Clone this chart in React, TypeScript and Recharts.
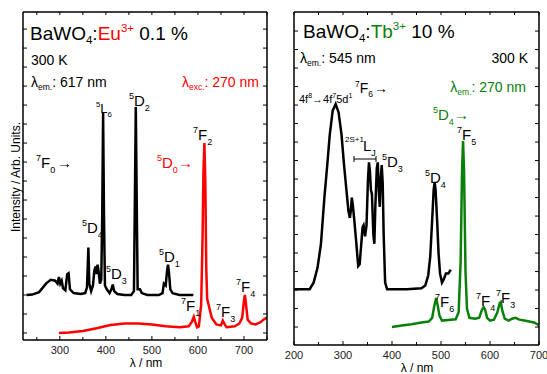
import React from 'react';
import { LineChart, Line, XAxis, YAxis } from 'recharts';

// Eu3+ panel: excitation (λem 617 nm) and emission (λexc 270 nm)
const euExcNm = [228, 240, 255, 270, 280, 290, 295, 298, 301, 304, 307, 312, 316, 319, 322, 330, 345, 355, 359, 362, 364, 368, 372, 375, 378, 380, 382, 384, 387, 390, 392, 394, 396, 398, 402, 408, 412, 415, 418, 425, 440, 455, 461, 463, 465, 467, 469, 474, 478, 490, 515, 523, 526, 530, 533, 535, 537, 540, 545, 560, 590];
const euExcVal = [2.0, 2.02, 2.15, 2.6, 2.8, 2.75, 2.6, 2.95, 2.6, 2.75, 2.35, 2.25, 3.1, 3.15, 2.3, 2.1, 2.05, 2.1, 2.4, 4.5, 2.6, 2.2, 2.5, 3.3, 3.5, 3.1, 3.6, 3.3, 2.6, 2.8, 6.0, 11.6, 6.0, 2.5, 2.3, 2.1, 2.3, 2.55, 2.2, 2.05, 2.0, 2.0, 2.2, 7.0, 11.9, 7.0, 2.3, 2.3, 2.1, 2.0, 2.0, 2.1, 2.6, 2.5, 3.3, 3.6, 3.2, 2.3, 2.1, 2.0, 2.0];
const euEmNm = [298, 320, 350, 380, 410, 440, 470, 500, 530, 560, 580, 587, 591, 594, 598, 602, 607, 610, 612, 614, 616, 618, 620, 623, 626, 630, 640, 650, 654, 657, 662, 680, 690, 696, 700, 702, 704, 708, 715, 725, 735, 745, 750];
const euEmVal = [0.0, 0.02, 0.1, 0.25, 0.42, 0.5, 0.5, 0.45, 0.35, 0.3, 0.35, 0.6, 0.85, 0.6, 0.3, 0.35, 1.5, 5.0, 8.5, 10.0, 8.0, 3.5, 1.8, 1.5, 1.2, 0.8, 0.45, 0.4, 0.65, 0.5, 0.3, 0.35, 0.5, 0.8, 1.7, 2.0, 1.6, 0.7, 0.5, 0.45, 0.55, 0.75, 0.8];

// Tb3+ panel: excitation (λem 545 nm) and emission (270 nm)
const tbExcNm = [200, 232, 240, 248, 255, 262, 268, 273, 279, 285, 291, 297, 302, 307, 311, 314, 316, 318, 320, 323, 327, 331, 334, 337, 340, 342, 345, 348, 351, 353, 355, 357, 359, 362, 364, 366, 369, 371, 373, 375, 377, 379, 381, 383, 386, 390, 430, 460, 468, 474, 478, 482, 485, 487, 489, 492, 495, 498, 502, 506, 510, 515, 520];
const tbExcVal = [2.05, 2.05, 2.4, 3.2, 4.5, 7.0, 8.8, 10.4, 11.7, 12.05, 11.6, 10.4, 8.8, 7.4, 6.3, 5.9, 6.3, 7.0, 6.6, 5.8, 4.6, 3.3, 3.4, 4.4, 5.4, 5.5, 4.9, 5.5, 8.0, 8.9, 8.4, 7.4, 7.2, 5.0, 4.5, 6.5, 8.6, 8.9, 7.4, 6.5, 8.0, 8.75, 7.8, 5.0, 2.4, 2.05, 2.05, 2.1, 2.25, 2.8, 3.8, 5.8, 7.4, 7.85, 7.4, 5.8, 4.0, 2.9, 2.4, 2.6, 2.9, 2.9, 3.1];
const tbEmNm = [400, 420, 440, 460, 475, 482, 486, 490, 493, 497, 502, 515, 530, 536, 540, 543, 545, 547, 550, 553, 558, 570, 578, 583, 587, 590, 594, 600, 608, 615, 620, 622, 625, 630, 638, 645, 652, 660, 670, 680, 690, 700];
const tbEmVal = [0.0, 0.08, 0.15, 0.25, 0.3, 0.5, 1.1, 1.57, 1.2, 0.6, 0.35, 0.38, 0.42, 0.8, 3.5, 8.5, 10.05, 8.5, 3.0, 1.0, 0.5, 0.45, 0.5, 0.9, 1.08, 0.95, 0.5, 0.35, 0.4, 0.8, 1.3, 1.35, 0.9, 0.45, 0.35, 0.45, 0.5, 0.4, 0.35, 0.3, 0.25, 0.1];

const yTicks = [0, 1, 2, 3, 4, 5, 6, 7, 8, 9, 10, 11, 12, 13, 14, 15, 16];
const euXTicks = [250, 300, 350, 400, 450, 500, 550, 600, 650, 700, 750];
const tbXTicks = [200, 250, 300, 350, 400, 450, 500, 550, 600, 650, 700];

const toRows = (nm: number[], v: number[]) => nm.map((x, i) => ({ x, y: v[i] }));

const FONT = 'Arial, "Liberation Sans", sans-serif';
const RED = '#ff0000';
const GREEN = '#0a800a';

const BottomTick = (props: any) => {
  const { x, y, payload, labelDy } = props;
  const major = payload.value % 100 === 0;
  return (
    <g>
      <line x1={x} y1={y} x2={x} y2={y - (major ? 4 : 3)} stroke="#000" strokeWidth={1} />
      {major && (
        <text x={x} y={y + labelDy} textAnchor="middle" fontSize={11} fontFamily={FONT} fill="#222">
          {payload.value}
        </text>
      )}
    </g>
  );
};
const TopTick = ({ x, y }: any) => <line x1={x} y1={y} x2={x} y2={y + 3} stroke="#000" strokeWidth={1} />;
const LeftTick = ({ x, y }: any) => <line x1={x} y1={y} x2={x + 4} y2={y} stroke="#000" strokeWidth={1} />;
const RightTick = ({ x, y }: any) => <line x1={x} y1={y} x2={x - 4} y2={y} stroke="#000" strokeWidth={1} />;

function Term({ x, y, pre, main, sub, size = 15, fill = '#000' }: any) {
  return (
    <text x={x} y={y} fontSize={size} fill={fill} fontFamily={FONT}>
      {pre && <tspan fontSize={size * 0.6} dy={-size * 0.45}>{pre}</tspan>}
      <tspan dy={pre ? size * 0.45 : 0}>{main}</tspan>
      {sub && <tspan fontSize={size * 0.6} dy={size * 0.3}>{sub}</tspan>}
    </text>
  );
}

const AXIS_LINE = { stroke: '#000', strokeWidth: 1.5 };

function Panel({ width, margin, xHeight, xDomain, xTicks, yDomain, labelDy, series }: any) {
  return (
    <LineChart width={width} height={374} margin={margin}>
      <XAxis dataKey="x" type="number" domain={xDomain} ticks={xTicks} interval={0} allowDataOverflow
        height={xHeight} tickSize={0} tickMargin={0} tickLine={false}
        axisLine={AXIS_LINE} tick={<BottomTick labelDy={labelDy} />} />
      <XAxis xAxisId="top" orientation="top" dataKey="x" type="number" domain={xDomain} ticks={xTicks} interval={0}
        allowDataOverflow height={1} tickSize={0} tickMargin={0} tickLine={false}
        axisLine={AXIS_LINE} tick={<TopTick />} />
      <YAxis type="number" domain={yDomain} ticks={yTicks} interval={0} allowDataOverflow width={1}
        tickSize={0} tickMargin={0} tickLine={false} axisLine={AXIS_LINE} tick={<LeftTick />} />
      <YAxis yAxisId="r" orientation="right" type="number" domain={yDomain} ticks={yTicks} interval={0}
        allowDataOverflow width={1} tickSize={0} tickMargin={0} tickLine={false}
        axisLine={AXIS_LINE} tick={<RightTick />} />
      {series.map((s: any, i: number) => (
        <Line key={i} data={s.data} dataKey="y" type="linear" stroke={s.color} strokeWidth={2.5}
          dot={false} isAnimationActive={false} />
      ))}
    </LineChart>
  );
}

export default function App() {
  return (
    <div style={{ position: 'absolute', left: 0, top: 0, width: 547, height: 374, background: '#fff' }}>
      <div style={{ position: 'absolute', left: 0, top: 0 }}>
        <Panel width={275} margin={{ top: 11, right: 7, left: 22, bottom: 0 }} xHeight={34}
          xDomain={[220, 750]} xTicks={euXTicks} yDomain={[-0.37, 16.9]} labelDy={14}
          series={[{ data: toRows(euExcNm, euExcVal), color: '#000' }, { data: toRows(euEmNm, euEmVal), color: RED }]} />
      </div>
      <div style={{ position: 'absolute', left: 275, top: 0 }}>
        <Panel width={272} margin={{ top: 11, right: 7, left: 18, bottom: 0 }} xHeight={29}
          xDomain={[200, 700]} xTicks={tbXTicks} yDomain={[-0.97, 17.03]} labelDy={14}
          series={[{ data: toRows(tbExcNm, tbExcVal), color: '#000' }, { data: toRows(tbEmNm, tbEmVal), color: GREEN }]} />
      </div>
      <svg width={547} height={374} style={{ position: 'absolute', left: 0, top: 0, pointerEvents: 'none' }}>
        {/* left panel */}
        <text x={30} y={40} fontSize={19} fontFamily={FONT}>
          BaWO<tspan fontSize={11.5} dy={4}>4</tspan>
          <tspan dy={-4}>:</tspan>
          <tspan fill={RED}>Eu</tspan>
          <tspan fill={RED} fontSize={11.5} dy={-8}>3+</tspan>
          <tspan dy={8}> 0.1 %</tspan>
        </text>
        <text x={31} y={65} fontSize={14} fontFamily={FONT}>300 K</text>
        <text x={31} y={87} fontSize={14} fontFamily={FONT}>
          λ<tspan fontSize={8.5} dy={3}>em.</tspan><tspan dy={-3}>: 617 nm</tspan>
        </text>
        <text x={259} y={87} fontSize={14} fontFamily={FONT} fill={RED} textAnchor="end">
          λ<tspan fontSize={8.5} dy={3}>exc.</tspan><tspan dy={-3}>: 270 nm</tspan>
        </text>
        <Term x={96} y={113} pre="5" main="L" sub="6" size={13} />
        <Term x={129} y={106} pre="5" main="D" sub="2" />
        <Term x={193} y={140} pre="7" main="F" sub="2" />
        <Term x={36} y={168} pre="7" main="F" sub="0" />
        <text x={57} y={168} fontSize={15} fontFamily={FONT}>→</text>
        <Term x={157} y={168} pre="5" main="D" sub="0" fill={RED} />
        <text x={178} y={168} fontSize={15} fontFamily={FONT} fill={RED}>→</text>
        <Term x={82} y={233} pre="5" main="D" sub="4" />
        <Term x={106} y={279} pre="5" main="D" sub="3" />
        <Term x={159} y={262} pre="5" main="D" sub="1" />
        <Term x={181} y={311} pre="7" main="F" sub="1" />
        <Term x={216} y={317} pre="7" main="F" sub="3" />
        <Term x={236} y={292} pre="7" main="F" sub="4" />
        <text x={16} y={177} fontSize={12} fontFamily={FONT} textAnchor="middle" dominantBaseline="central"
          transform="rotate(-90 16 177)">Intensity / Arb. Units.</text>
        <text x={146} y={367} fontSize={12} fontFamily={FONT} textAnchor="middle">λ / nm</text>

        {/* right panel */}
        <text x={303} y={38} fontSize={19} fontFamily={FONT}>
          BaWO<tspan fontSize={11.5} dy={4}>4</tspan>
          <tspan dy={-4}>:</tspan>
          <tspan fill={GREEN}>Tb</tspan>
          <tspan fill={GREEN} fontSize={11.5} dy={-8}>3+</tspan>
          <tspan dy={8}> 10 %</tspan>
        </text>
        <text x={300} y={63} fontSize={14} fontFamily={FONT}>
          λ<tspan fontSize={8.5} dy={3}>em.</tspan><tspan dy={-3}>: 545 nm</tspan>
        </text>
        <text x={528} y={63} fontSize={14} fontFamily={FONT} textAnchor="end">300 K</text>
        <text x={526} y={92} fontSize={14} fontFamily={FONT} fill={GREEN} textAnchor="end">
          λ<tspan fontSize={8.5} dy={3}>em.</tspan><tspan dy={-3}>: 270 nm</tspan>
        </text>
        <text x={299} y={103} fontSize={11} fontFamily={FONT}>
          4f<tspan fontSize={7} dy={-5}>8</tspan><tspan dy={5}>→4f</tspan>
          <tspan fontSize={7} dy={-5}>7</tspan><tspan dy={5}>5d</tspan>
          <tspan fontSize={7} dy={-5}>1</tspan>
        </text>
        <Term x={355} y={93} pre="7" main="F" sub="6" size={14} />
        <text x={374} y={93} fontSize={14} fontFamily={FONT}>→</text>
        <Term x={433} y={120} pre="5" main="D" sub="4" fill={GREEN} />
        <text x={454} y={120} fontSize={15} fontFamily={FONT} fill={GREEN}>→</text>
        <Term x={457} y={140} pre="7" main="F" sub="5" />
        <text x={345} y={142} fontSize={8} fontFamily={FONT}>2S+1</text>
        <Term x={363} y={151} main="L" sub="J" size={15} />
        <line x1={354} y1={159} x2={376} y2={159} stroke="#000" strokeWidth={1} />
        <line x1={354} y1={156} x2={354} y2={162} stroke="#000" strokeWidth={1} />
        <line x1={376} y1={156} x2={376} y2={162} stroke="#000" strokeWidth={1} />
        <Term x={382} y={167} pre="5" main="D" sub="3" />
        <Term x={425} y={183} pre="5" main="D" sub="4" />
        <Term x={435} y={307} pre="7" main="F" sub="6" />
        <Term x={476} y={306} pre="7" main="F" sub="4" />
        <Term x={496} y={303} pre="7" main="F" sub="3" />
        <text x={417} y={372} fontSize={12} fontFamily={FONT} textAnchor="middle">λ / nm</text>
      </svg>
    </div>
  );
}
